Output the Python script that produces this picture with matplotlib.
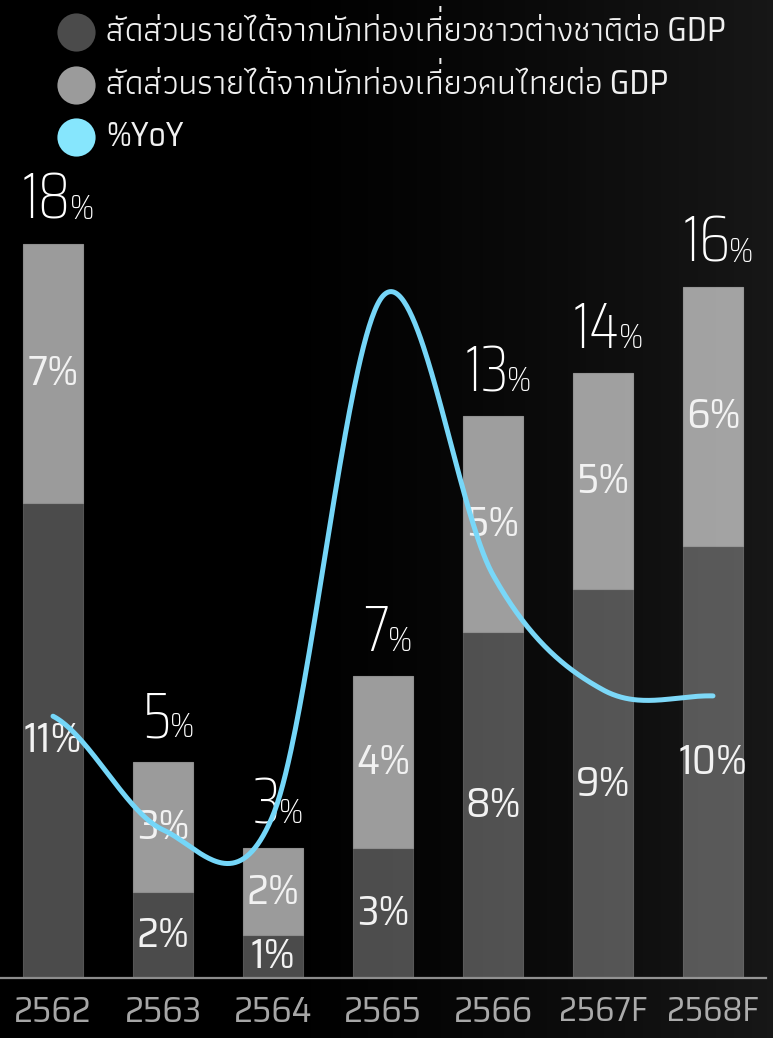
import numpy as np
import matplotlib
matplotlib.use("Agg")
import matplotlib.pyplot as plt

# ข้อมูล (อ่านจากภาพ)
years = ["2562", "2563", "2564", "2565", "2566", "2567F", "2568F"]
foreign = [11, 2, 1, 3, 8, 9, 10]      # สัดส่วนรายได้จากนักท่องเที่ยวชาวต่างชาติต่อ GDP
thai = [6, 3, 2, 4, 5, 5, 6]           # สัดส่วนรายได้จากนักท่องเที่ยวคนไทยต่อ GDP
foreign_labels = ["11%", "2%", "1%", "3%", "8%", "9%", "10%"]
thai_labels = ["7%", "3%", "2%", "4%", "5%", "5%", "6%"]
total_labels = ["18", "5", "3", "7", "13", "14", "16"]
yoy = [6.06, 3.43, 3.77, 15.79, 9.33, 6.67, 6.53]   # %YoY (แกนรอง ไม่แสดงค่า)

legend_labels = [
    "สัดส่วนรายได้จากนักท่องเที่ยวชาวต่างชาติต่อ GDP",
    "สัดส่วนรายได้จากนักท่องเที่ยวคนไทยต่อ GDP",
    "%YoY",
]

DARK = "#4b4b4b"
LIGHT = "#9b9b9b"
CYAN = "#74d6f8"
FONT = ["Saira SemiCondensed", "Kanit", "DejaVu Sans"]
FONT_BIG = ["Saira Condensed", "Saira SemiCondensed", "DejaVu Sans"]
LEG_FONT = ["Saira SemiCondensed", "Athiti", "Kanit", "DejaVu Sans"]
MAI_EK = "\u0e48"


def catmull_rom(y, n=80):
    p = np.concatenate([[y[0]], y, [y[-1]]])
    t = np.linspace(0, 1, n)
    h00 = 2 * t**3 - 3 * t**2 + 1
    h10 = t**3 - 2 * t**2 + t
    h01 = -2 * t**3 + 3 * t**2
    h11 = t**3 - t**2
    xs, ys = [], []
    for i in range(len(y) - 1):
        m1 = (p[i + 2] - p[i]) / 2
        m2 = (p[i + 3] - p[i + 1]) / 2
        xs.append(i + t)
        ys.append(h00 * p[i + 1] + h10 * m1 + h01 * p[i + 2] + h11 * m2)
    return np.concatenate(xs), np.concatenate(ys)


W, H = 773, 1038
fig = plt.figure(figsize=(W / 100, H / 100), dpi=100, facecolor="black")
renderer = fig.canvas.get_renderer()

ax = fig.add_axes([0, 60 / H, 766 / W, (978 - 160) / H])
ax.set_facecolor("none")
x = np.arange(len(years))
ax.bar(x, foreign, width=0.545, color=DARK, edgecolor="#555555", linewidth=0.8)
ax.bar(x, thai, bottom=foreign, width=0.545, color=LIGHT, edgecolor="#8e8e8e", linewidth=0.8)
ax.set_xlim(-0.482, 6.482)
ax.set_ylim(0, (978 - 160) / 43.2)

for s in ["top", "right", "left"]:
    ax.spines[s].set_visible(False)
ax.spines["bottom"].set_color("#8c8c8c")
ax.spines["bottom"].set_linewidth(1.6)
ax.set_yticks([])
ax.set_xticks(x)
ax.set_xticklabels(years, family=FONT, fontsize=26, color="#a6a6a6")
ax.tick_params(axis="x", length=0, pad=12)
for lbl in ax.get_xticklabels():
    if lbl.get_text().endswith("F"):
        lbl.set_fontsize(24.5)

# ป้ายในแท่ง
for i in range(len(years)):
    ax.text(x[i], foreign[i] / 2, foreign_labels[i], ha="center", va="center",
            family=FONT, fontsize=30, color="#f2f2f2")
    ax.text(x[i], foreign[i] + thai[i] / 2, thai_labels[i], ha="center", va="center",
            family=FONT, fontsize=30, color="#f2f2f2")

# ยอดรวมเหนือแท่ง
for i in range(len(years)):
    top = foreign[i] + thai[i]
    tn = ax.annotate(total_labels[i], (x[i], top), xytext=(0, 25), textcoords="offset pixels",
                     ha="left", va="baseline", family=FONT_BIG, fontsize=47,
                     color="white", fontweight="light")
    tp = ax.annotate("%", (x[i], top), xytext=(0, 25), textcoords="offset pixels",
                     ha="left", va="baseline", family=FONT, fontsize=25,
                     color="white", fontweight="light")
    wn = tn.get_window_extent(renderer).width
    wp = tp.get_window_extent(renderer).width
    gap = -1
    start = -(wn + gap + wp) / 2 + 5
    tn.xyann = (start, 25)
    tp.xyann = (start + wn + gap, 25)

# เส้น %YoY บนแกนรอง
ax2 = ax.twinx()
ax2.set_ylim(ax.get_ylim())
ax2.axis("off")
cx, cy = catmull_rom(yoy)
ax2.plot(cx, cy, color=CYAN, linewidth=3.6, solid_capstyle="round")

# แถบไล่สีพื้นหลัง + คำอธิบาย
ov = fig.add_axes([0, 0, 1, 1], zorder=5)
ov.set_xlim(0, W)
ov.set_ylim(H, 0)
ov.axis("off")
gx = np.linspace(0, 1, 256)
alpha = np.clip((gx - 0.3) / 0.7, 0, 1) ** 1.3 * 0.095
grad = np.zeros((1, 256, 4))
grad[..., :3] = 1.0
grad[..., 3] = alpha
ov.imshow(grad, extent=[0, W, H, 0], aspect="auto", zorder=0)

leg_colors = [DARK, LIGHT, "#86e6fd"]
leg_size = 24.2
for k, (lab, col) in enumerate(zip(legend_labels, leg_colors)):
    ly = 32 + k * 52.5
    ov.scatter([76], [ly], s=27.5 ** 2, color=col, zorder=3, linewidths=0)
    # ไม้เอกบนสระอี: matplotlib ไม่จัดตำแหน่งเครื่องหมายซ้อน จึงวาดยกขึ้นเอง
    pos = lab.find("ที" + MAI_EK)
    shown = lab.replace("ที" + MAI_EK, "ที")
    ov.text(106, ly + 9, shown, ha="left", va="baseline", family=LEG_FONT,
            fontsize=leg_size, color="#f0f0f0", zorder=3)
    if pos >= 0:
        pre = ov.text(106, ly + 9, lab[:pos + 2], ha="left", va="baseline",
                      family=LEG_FONT, fontsize=leg_size)
        wpre = pre.get_window_extent(renderer).width
        pre.remove()
        ov.text(106 + wpre, ly + 9 - 0.24 * leg_size * 100 / 72, MAI_EK + "\u00a0",
                ha="left", va="baseline", family=LEG_FONT, fontsize=leg_size,
                color="#f0f0f0", zorder=3)

fig.savefig("out.png", dpi=100, facecolor="black")
